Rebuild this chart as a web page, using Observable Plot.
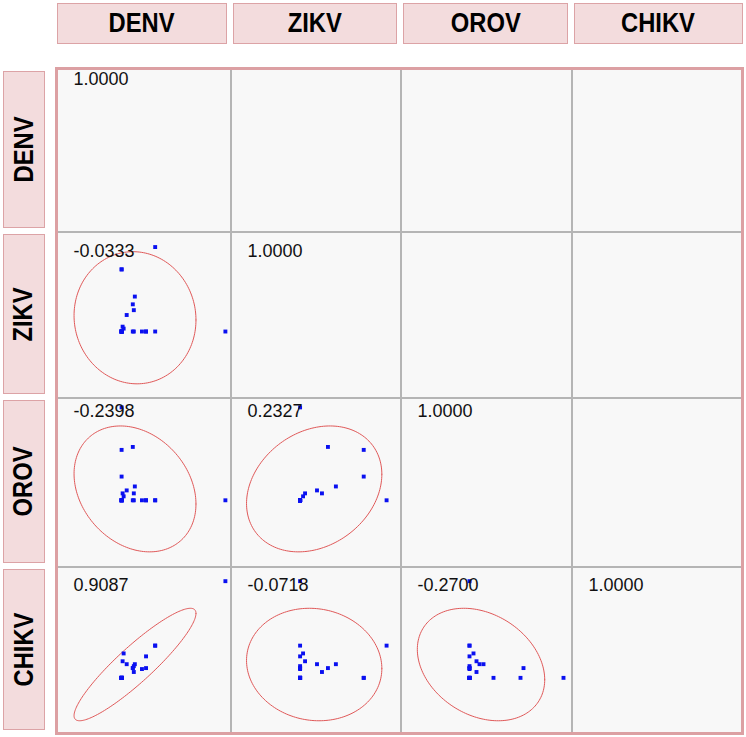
<!DOCTYPE html>
<html>
<head>
<meta charset="utf-8">
<script src="https://cdn.jsdelivr.net/npm/d3@7"></script>
<script src="https://cdn.jsdelivr.net/npm/@observablehq/plot@0.6"></script>
<style>
  html, body { margin: 0; padding: 0; background: #ffffff; }
  #root { position: relative; width: 746px; height: 737px; overflow: hidden;
          font-family: "Liberation Sans", Arial, Helvetica, sans-serif; }
  .hdr { position: absolute; box-sizing: border-box; background: #f3dcdd;
         border: 1.5px solid #dca3a6; display: flex; align-items: center; justify-content: center;
         font-weight: bold; font-size: 27px; color: #000; }
  .hdr span { display: inline-block; white-space: nowrap; transform: scaleX(0.88); }
  .rowlab span { transform: rotate(-90deg) scaleX(0.88); }
  .cell { position: absolute; background: #f8f8f8; }
  .cell svg { display: block; }
  .gl { position: absolute; background: #b5b5b5; }
  .outer { position: absolute; box-sizing: border-box; border: 3px solid #dca0a3; pointer-events: none; }
</style>
</head>
<body>
<div id="root"></div>
<script>
// ---------------- data ----------------
const variables = ["DENV", "ZIKV", "OROV", "CHIKV"];

// one value per sample, same sample order in every array
const DENV  = [165, 96, 96, 63, 63, 63, 63, 63, 63, 63, 63, 63, 74, 76, 68, 75, 64, 65, 87, 75, 83, 87, 74];
const ZIKV  = [69, 156, 69, 69, 133, 133, 69, 69, 69, 69, 69, 69, 97, 105, 86, 91, 74, 72, 69, 69, 69, 69, 69];
const OROV  = [68, 68, 68, 162, 119, 92, 68, 68, 68, 68, 68, 68, 122, 82, 78, 75, 75, 72, 68, 68, 68, 68, 68];
const CHIKV = [157, 91, 91, 58, 58, 58, 58, 58, 58, 58, 58, 58, 68, 72, 72, 64, 75, 83, 80, 70, 67, 68, 68];

// printed correlations (lower triangle incl. diagonal)
const correlations = [
  [1.0000],
  [-0.0333, 1.0000],
  [-0.2398, 0.2327, 1.0000],
  [0.9087, -0.0718, -0.2700, 1.0000]
];

const valueDomain = [0, 171];
const ellipseLevel = 0.95;

// ---------------- layout ----------------
const series = {DENV, ZIKV, OROV, CHIKV};
const colEdges = [57, 231, 401, 572, 743];
const rowEdges = [69, 232, 398, 567, 734];
const root = document.getElementById("root");

function div(cls, css, html) {
  const d = document.createElement("div");
  d.className = cls;
  Object.assign(d.style, css);
  if (html != null) d.innerHTML = html;
  root.appendChild(d);
  return d;
}

// density-ellipse radius factor (F-based, as for a sample covariance)
function ellipseK(n) {
  const m = n - 2;
  const F = m / 2 * (Math.pow(1 - ellipseLevel, -2 / m) - 1);
  return Math.sqrt(2 * (n - 1) / m * F);
}

function ellipsePoints(xs, ys, r) {
  const mx = d3.mean(xs), my = d3.mean(ys);
  const sx = d3.deviation(xs), sy = d3.deviation(ys);
  const k = ellipseK(xs.length);
  const s = Math.sqrt(Math.max(0, 1 - r * r));
  return d3.range(0, 361, 2).map(a => {
    const t = a * Math.PI / 180;
    return {x: mx + k * sx * Math.cos(t), y: my + k * sy * (r * Math.cos(t) + s * Math.sin(t))};
  });
}

// cells
variables.forEach((rowVar, i) => {
  variables.forEach((colVar, j) => {
    const left = colEdges[j], top = rowEdges[i];
    const w = colEdges[j + 1] - left, h = rowEdges[i + 1] - top;
    const cell = div("cell", {left: left + "px", top: top + "px", width: w + "px", height: h + "px"});
    const marks = [];
    const ys = series[rowVar];
    const rowMax = d3.max(ys);
    if (j <= i) {
      const r = correlations[i][j];
      if (j < i) {
        const xs = series[colVar];
        const pts = xs.map((x, k) => ({x, y: ys[k]}));
        marks.push(Plot.line(ellipsePoints(xs, ys, r), {x: "x", y: "y", stroke: "#e05858", strokeWidth: 1, curve: "linear"}));
        marks.push(Plot.dot(pts, {x: "x", y: "y", symbol: "square", r: 2.2, fill: "#0a10f0", stroke: "none"}));
      }
      marks.push(Plot.text([r], {
        frameAnchor: "left", y: () => rowMax, dx: 16, dy: 4,
        text: d => d.toFixed(4), textAnchor: "start", lineAnchor: "middle",
        fontSize: 18, fill: "#111"
      }));
    }
    const svg = Plot.plot({
      width: w, height: h,
      margin: 0,
      x: {domain: valueDomain, axis: null},
      y: {domain: valueDomain, axis: null},
      style: {background: "transparent", fontFamily: "'Liberation Sans', Arial, sans-serif", overflow: "hidden"},
      marks: [Plot.frame({stroke: "none"}), ...marks]
    });
    cell.appendChild(svg);
  });
});

// internal grid lines
for (let j = 1; j < 4; j++) div("gl", {left: (colEdges[j] - 1) + "px", top: rowEdges[0] + "px", width: "2px", height: (rowEdges[4] - rowEdges[0]) + "px"});
for (let i = 1; i < 4; i++) div("gl", {left: colEdges[0] + "px", top: (rowEdges[i] - 1) + "px", width: (colEdges[4] - colEdges[0]) + "px", height: "2px"});

// outer border
div("outer", {left: (colEdges[0] - 2) + "px", top: (rowEdges[0] - 2) + "px",
  width: (colEdges[4] - colEdges[0] + 3) + "px", height: (rowEdges[4] - rowEdges[0] + 3) + "px"});

// column headers
variables.forEach((v, j) => {
  const l = colEdges[j] + (j ? 2 : 0), r = colEdges[j + 1] - (j < 3 ? 4 : 0);
  div("hdr", {left: l + "px", top: "3px", width: (r - l) + "px", height: "41px"}, "<span>" + v + "</span>");
});
// row headers
variables.forEach((v, i) => {
  const t = rowEdges[i] + 2, b = rowEdges[i + 1] - 4;
  div("hdr rowlab", {left: "3px", top: t + "px", width: "42px", height: (b - t) + "px"}, "<span>" + v + "</span>");
});
</script>
</body>
</html>
